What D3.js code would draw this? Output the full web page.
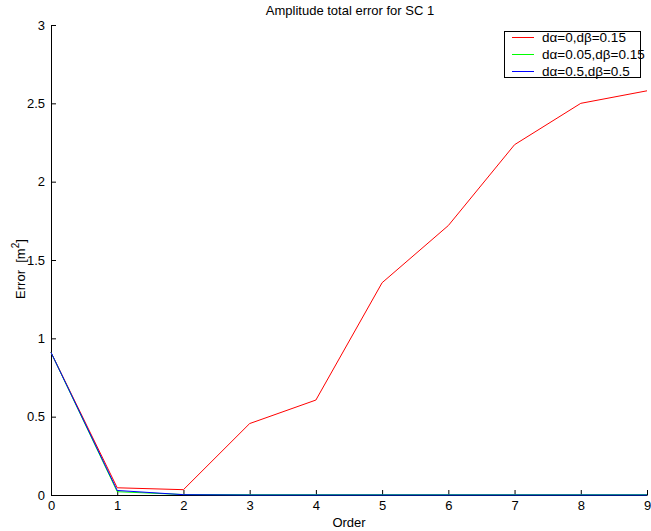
<!DOCTYPE html>
<html><head><meta charset="utf-8">
<script src="https://cdn.jsdelivr.net/npm/d3@7"></script>
<style>body{margin:0;background:#fff;} text{font-family:"Liberation Sans",Arial,sans-serif;}</style>
</head><body>
<svg id="c" width="651" height="531"></svg>
<script>
const orders = [0,1,2,3,4,5,6,7,8,9];
const seriesRed = [0.91,0.046,0.034,0.456,0.606,1.355,1.72,2.236,2.5,2.58];
const seriesGreen = [0.91,0.021,0.003,0.002,0.002,0.002,0.002,0.002,0.002,0.002];
const seriesBlue = [0.91,0.029,0.002,0.0,0.0,0.0,0.0,0.0,0.0,0.0];
const labels = ["d\u03b1=0,d\u03b2=0.15","d\u03b1=0.05,d\u03b2=0.15","d\u03b1=0.5,d\u03b2=0.5"];
const colors = ["#ff0000","#00ff00","#0000ff"];
const xTicks = [0,1,2,3,4,5,6,7,8,9];
const yTicks = [0,0.5,1,1.5,2,2.5,3];

const svg = d3.select("#c");
const L=51, R=647, T=25, B=495;
const x = d3.scaleLinear().domain([0,9]).range([L,R]);
const y = d3.scaleLinear().domain([0,3]).range([B,T]);

const ga = svg.append("g");
const xa = ga.append("g").attr("transform",`translate(0,${B})`)
  .call(d3.axisBottom(x).tickValues(xTicks).tickFormat(d3.format("d")).tickSizeInner(-5).tickSizeOuter(0).tickPadding(6));
const ya = ga.append("g").attr("transform",`translate(${L},0)`)
  .call(d3.axisLeft(y).tickValues(yTicks).tickFormat(d=>String(d)).tickSizeInner(-5).tickSizeOuter(0).tickPadding(6));
[xa,ya].forEach(a=>{
  a.selectAll("path,line").attr("stroke","#000").attr("stroke-width",1);
  a.selectAll("text").attr("font-size",13).attr("fill","#000").style("font-family","Liberation Sans, Arial, sans-serif");
});

const line = d3.line().x((d,i)=>x(orders[i])).y(d=>y(d));
[seriesRed,seriesGreen,seriesBlue].forEach((s,i)=>{
  svg.append("path").datum(s).attr("d",line).attr("fill","none").attr("stroke",colors[i]).attr("stroke-width",1);
});

svg.append("text").attr("x",350).attr("y",15).attr("text-anchor","middle").attr("font-size",13).text("Amplitude total error for SC 1");
svg.append("text").attr("x",349).attr("y",527).attr("text-anchor","middle").attr("font-size",13).text("Order");
const yl = svg.append("text").attr("transform","translate(25,269) rotate(-90)").attr("text-anchor","middle").attr("font-size",13).style("white-space","pre");
yl.append("tspan").text("Error  [m");
yl.append("tspan").attr("dy",-6).attr("font-size",10).text("2");
yl.append("tspan").attr("dy",6).text("]");

// legend
const lg = svg.append("g");
lg.append("rect").attr("x",504.5).attr("y",31.5).attr("width",136).attr("height",46).attr("fill","#fff").attr("stroke","#000").attr("stroke-width",1);
labels.forEach((t,i)=>{
  const yy = 37.5+i*17;
  lg.append("line").attr("x1",512).attr("x2",534).attr("y1",yy).attr("y2",yy).attr("stroke",colors[i]).attr("stroke-width",1);
  lg.append("text").attr("x",542).attr("y",yy+4.5).attr("font-size",13.5).text(t);
});
</script>
</body></html>
